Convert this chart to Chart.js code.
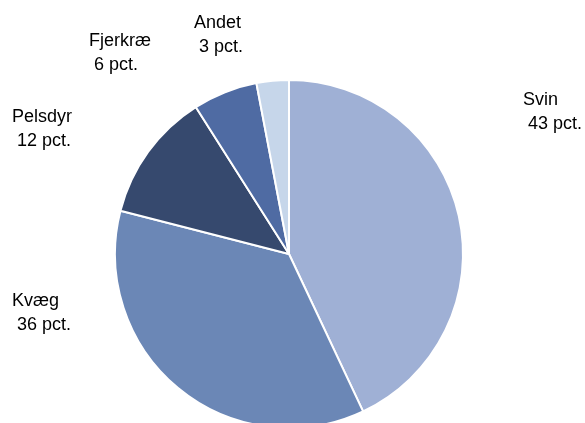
<!DOCTYPE html>
<html>
<head>
<meta charset="utf-8">
<script src="https://cdn.jsdelivr.net/npm/chart.js@4"></script>
<style>
  html, body { margin: 0; padding: 0; background: #fff; overflow: hidden; }
  #wrap { width: 585px; height: 429px; position: relative; }
</style>
</head>
<body>
<div id="wrap"><canvas id="pieChart"></canvas></div>
<script>
// Data
const categories = ['Svin', 'Kvæg', 'Pelsdyr', 'Fjerkræ', 'Andet'];
const shares = [43, 36, 12, 6, 3];
const sliceColors = ['#9fb0d5', '#6b87b6', '#36496e', '#4f6ba3', '#c6d6ea'];

// Label placement (left x, baseline y of first line)
const labelPos = [[523, 105], [12, 306], [12, 122], [89, 46], [194, 28]];

const outsideLabels = {
    id: 'outsideLabels',
    afterDraw(chart) {
        const ctx = chart.ctx;
        ctx.save();
        ctx.font = '18px "Liberation Sans", Arial, sans-serif';
        ctx.fillStyle = '#000';
        ctx.textAlign = 'left';
        ctx.textBaseline = 'alphabetic';
        chart.data.labels.forEach(function(label, i) {
            const p = labelPos[i];
            ctx.fillText(label, p[0], p[1]);
            ctx.fillText(chart.data.datasets[0].data[i] + ' pct.', p[0] + 5, p[1] + 24);
        });
        ctx.restore();
    }
};

const ctx = document.getElementById('pieChart').getContext('2d');
new Chart(ctx, {
    type: 'pie',
    data: {
        labels: categories,
        datasets: [{
            data: shares,
            backgroundColor: sliceColors,
            borderColor: '#fff',
            borderWidth: 2
        }]
    },
    options: {
        responsive: true,
        maintainAspectRatio: false,
        animation: false,
        layout: { padding: { top: 79, left: 0, right: 7, bottom: 0 } },
        plugins: {
            legend: { display: false },
            tooltip: { enabled: false }
        }
    },
    plugins: [outsideLabels]
});
</script>
</body>
</html>
